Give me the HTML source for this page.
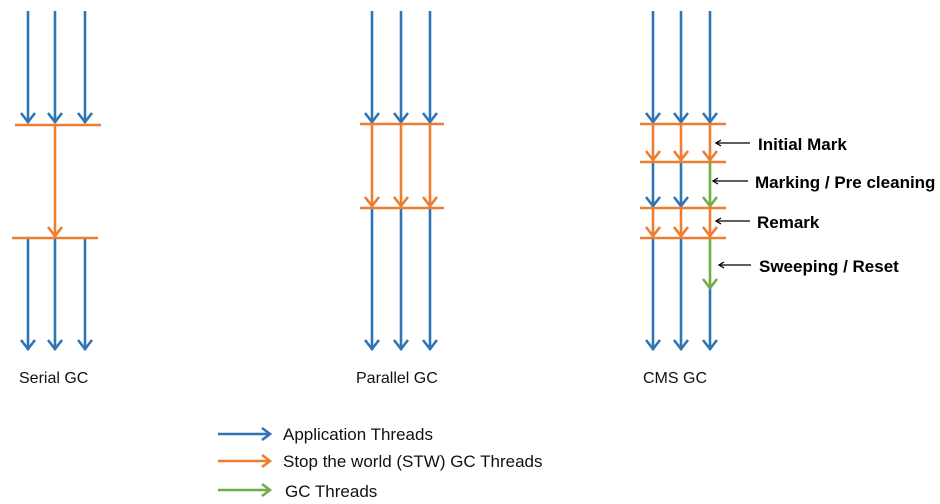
<!DOCTYPE html>
<html><head><meta charset="utf-8"><style>
html,body{margin:0;padding:0;background:#fff;}
svg{display:block;}
text{font-family:"Liberation Sans",sans-serif;}
</style></head><body>
<svg width="940" height="504" viewBox="0 0 940 504" xmlns="http://www.w3.org/2000/svg">
<g fill="none" stroke-width="2.6" stroke-linecap="butt">
<!-- Serial -->
<g stroke="#2E75B6">
<line x1="28" y1="11" x2="28" y2="123"/><line x1="55" y1="11" x2="55" y2="123"/><line x1="85" y1="11" x2="85" y2="123"/>
<polyline points="21,113 28,122 35,113"/><polyline points="48,113 55,122 62,113"/><polyline points="78,113 85,122 92,113"/>
<line x1="28" y1="239" x2="28" y2="350"/><line x1="55" y1="239" x2="55" y2="350"/><line x1="85" y1="239" x2="85" y2="350"/>
<polyline points="21,340 28,349 35,340"/><polyline points="48,340 55,349 62,340"/><polyline points="78,340 85,349 92,340"/>
</g>
<g stroke="#ED7D31">
<line x1="15" y1="125" x2="101" y2="125"/><line x1="12" y1="238" x2="98" y2="238"/>
<line x1="55" y1="125" x2="55" y2="237"/><polyline points="48,227 55,236 62,227"/>
</g>
<!-- Parallel -->
<g stroke="#2E75B6">
<line x1="372" y1="11" x2="372" y2="123"/><line x1="401" y1="11" x2="401" y2="123"/><line x1="430" y1="11" x2="430" y2="123"/>
<polyline points="365,113 372,122 379,113"/><polyline points="394,113 401,122 408,113"/><polyline points="423,113 430,122 437,113"/>
<line x1="372" y1="209" x2="372" y2="350"/><line x1="401" y1="209" x2="401" y2="350"/><line x1="430" y1="209" x2="430" y2="350"/>
<polyline points="365,340 372,349 379,340"/><polyline points="394,340 401,349 408,340"/><polyline points="423,340 430,349 437,340"/>
</g>
<g stroke="#ED7D31">
<line x1="360" y1="124" x2="444" y2="124"/><line x1="360" y1="208" x2="444" y2="208"/>
<line x1="372" y1="124" x2="372" y2="207"/><line x1="401" y1="124" x2="401" y2="207"/><line x1="430" y1="124" x2="430" y2="207"/>
<polyline points="365,197 372,206 379,197"/><polyline points="394,197 401,206 408,197"/><polyline points="423,197 430,206 437,197"/>
</g>
<!-- CMS -->
<g stroke="#2E75B6">
<line x1="653" y1="11" x2="653" y2="123"/><line x1="681" y1="11" x2="681" y2="123"/><line x1="710" y1="11" x2="710" y2="123"/>
<polyline points="646,113 653,122 660,113"/><polyline points="674,113 681,122 688,113"/><polyline points="703,113 710,122 717,113"/>
<line x1="653" y1="163" x2="653" y2="207"/><line x1="681" y1="163" x2="681" y2="207"/>
<polyline points="646,197 653,206 660,197"/><polyline points="674,197 681,206 688,197"/>
<line x1="653" y1="239" x2="653" y2="350"/><line x1="681" y1="239" x2="681" y2="350"/><line x1="710" y1="288" x2="710" y2="350"/>
<polyline points="646,340 653,349 660,340"/><polyline points="674,340 681,349 688,340"/><polyline points="703,340 710,349 717,340"/>
</g>
<g stroke="#70AD47">
<line x1="710" y1="163" x2="710" y2="207"/><polyline points="703,197 710,206 717,197"/>
<line x1="710" y1="239" x2="710" y2="289"/><polyline points="703,279 710,288 717,279"/>
</g>
<g stroke="#ED7D31">
<line x1="640" y1="124" x2="726" y2="124"/><line x1="640" y1="162" x2="726" y2="162"/>
<line x1="640" y1="208" x2="726" y2="208"/><line x1="640" y1="238" x2="726" y2="238"/>
<line x1="653" y1="124" x2="653" y2="161"/><line x1="681" y1="124" x2="681" y2="161"/><line x1="710" y1="124" x2="710" y2="161"/>
<polyline points="646,151 653,160 660,151"/><polyline points="674,151 681,160 688,151"/><polyline points="703,151 710,160 717,151"/>
<line x1="653" y1="208" x2="653" y2="237"/><line x1="681" y1="208" x2="681" y2="237"/><line x1="710" y1="208" x2="710" y2="237"/>
<polyline points="646,227 653,236 660,227"/><polyline points="674,227 681,236 688,227"/><polyline points="703,227 710,236 717,227"/>
</g>
<!-- label pointers -->
<g stroke="#000" stroke-width="1.3">
<line x1="716" y1="143" x2="750" y2="143"/><polyline points="721,140 716,143 721,146"/>
<line x1="713" y1="181" x2="748" y2="181"/><polyline points="718,178 713,181 718,184"/>
<line x1="716" y1="221" x2="750" y2="221"/><polyline points="721,218 716,221 721,224"/>
<line x1="719" y1="265" x2="751" y2="265"/><polyline points="724,262 719,265 724,268"/>
</g>
<!-- legend arrows -->
<g stroke-width="2.6">
<line x1="218" y1="434" x2="270" y2="434" stroke="#2E75B6"/><polyline points="262,428 270,434 262,440" stroke="#2E75B6"/>
<line x1="218" y1="461" x2="270" y2="461" stroke="#ED7D31"/><polyline points="262,455 270,461 262,467" stroke="#ED7D31"/>
<line x1="218" y1="490" x2="270" y2="490" stroke="#70AD47"/><polyline points="262,484 270,490 262,496" stroke="#70AD47"/>
</g>
</g>
<g font-size="17" font-weight="bold" fill="#000">
<text x="758" y="150">Initial Mark</text>
<text x="755" y="188">Marking / Pre cleaning</text>
<text x="757" y="228">Remark</text>
<text x="759" y="272">Sweeping / Reset</text>
</g>
<g font-size="16" fill="#111">
<text x="19" y="383">Serial GC</text>
<text x="356" y="383">Parallel GC</text>
<text x="643" y="383">CMS GC</text>
</g>
<g font-size="17" fill="#111">
<text x="283" y="440">Application Threads</text>
<text x="283" y="467">Stop the world (STW) GC Threads</text>
<text x="285" y="497">GC Threads</text>
</g>
</svg>
</body></html>
